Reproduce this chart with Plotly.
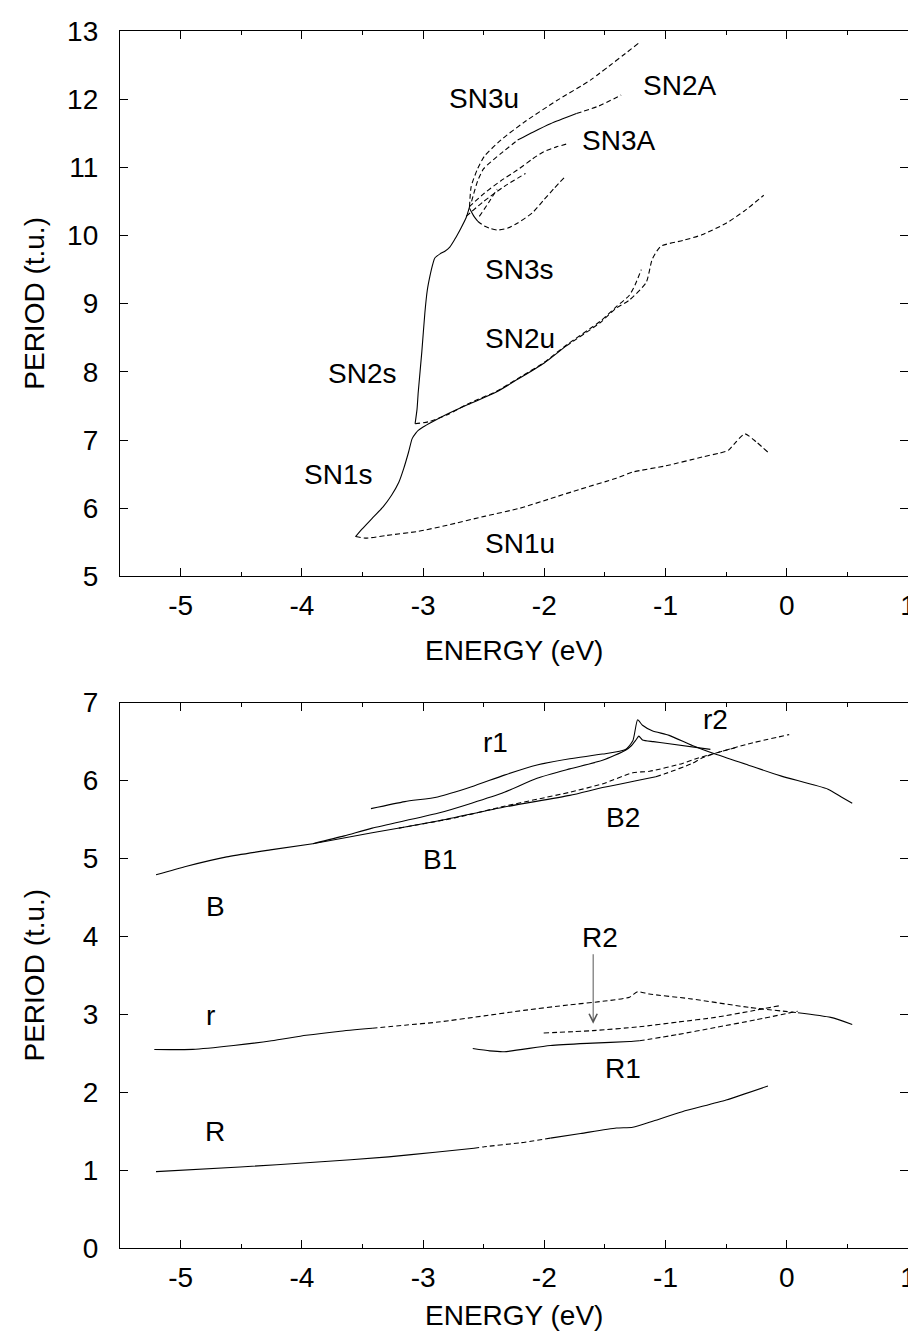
import plotly.graph_objects as go

# ---------------- TOP PANEL DATA ----------------
sn1s_x = [-3.557, -3.50, -3.42, -3.33, -3.26, -3.20, -3.16, -3.12, -3.09, -3.06, -3.04, -3.00, -2.93, -2.80, -2.63, -2.40, -2.22, -2.00, -1.82]
sn1s_y = [5.584, 5.70, 5.85, 6.02, 6.19, 6.38, 6.58, 6.82, 7.02, 7.10, 7.14, 7.19, 7.26, 7.38, 7.52, 7.70, 7.89, 8.13, 8.38]
sn1c_x = [-1.82, -1.54, -1.41, -1.30, -1.16, -1.11, -1.04, -0.85, -0.70, -0.50, -0.35, -0.19]
sn1c_y = [8.38, 8.72, 8.93, 9.05, 9.31, 9.65, 9.84, 9.93, 10.01, 10.18, 10.36, 10.59]
sn2u_x = [-3.066, -2.95, -2.80, -2.63, -2.40, -2.22, -2.00, -1.82, -1.54, -1.41, -1.30, -1.25, -1.20]
sn2u_y = [7.238, 7.27, 7.37, 7.53, 7.71, 7.90, 8.14, 8.39, 8.74, 8.95, 9.12, 9.28, 9.50]
sn2s_x = [-3.066, -3.05, -3.04, -3.01, -2.985, -2.965, -2.944, -2.92, -2.903, -2.86, -2.82, -2.78, -2.74, -2.69, -2.645, -2.617]
sn2s_y = [7.238, 7.45, 7.70, 8.30, 8.87, 9.20, 9.40, 9.58, 9.67, 9.73, 9.77, 9.83, 9.94, 10.10, 10.26, 10.42]
sn3u_x = [-2.617, -2.603, -2.55, -2.495, -2.359, -2.168, -1.896, -1.62, -1.216]
sn3u_y = [10.42, 10.72, 10.98, 11.16, 11.40, 11.66, 11.98, 12.28, 12.83]
sn2a_d1_x = [-2.60, -2.55, -2.50, -2.36, -2.22]
sn2a_d1_y = [10.50, 10.80, 10.98, 11.20, 11.40]
sn2a_s_x = [-2.22, -2.09, -1.95, -1.735]
sn2a_s_y = [11.40, 11.52, 11.64, 11.79]
sn2a_d2_x = [-1.735, -1.55, -1.366]
sn2a_d2_y = [11.79, 11.90, 12.06]
sn3a_x = [-2.62, -2.495, -2.36, -2.223, -2.10, -2.005, -1.90, -1.80]
sn3a_y = [10.42, 10.62, 10.80, 10.96, 11.12, 11.23, 11.30, 11.35]
linex_x = [-2.645, -2.50, -2.33, -2.155]
linex_y = [10.28, 10.50, 10.72, 10.91]
liney_x = [-2.536, -2.46, -2.39]
liney_y = [10.28, 10.48, 10.68]
sn3s_s_x = [-2.617, -2.58, -2.55]
sn3s_s_y = [10.40, 10.28, 10.21]
sn3s_d_x = [-2.55, -2.495, -2.44, -2.386, -2.30, -2.223, -2.10, -2.005, -1.92, -1.83]
sn3s_d_y = [10.21, 10.14, 10.10, 10.08, 10.11, 10.18, 10.33, 10.52, 10.69, 10.86]
sn1u_x = [-3.557, -3.475, -3.30, -3.04, -2.80, -2.495, -2.20, -1.95, -1.70, -1.406, -1.27, -1.00, -0.698, -0.55, -0.481, -0.42, -0.345, -0.25, -0.155]
sn1u_y = [5.584, 5.56, 5.60, 5.66, 5.75, 5.88, 6.00, 6.14, 6.28, 6.44, 6.53, 6.62, 6.75, 6.81, 6.85, 6.97, 7.09, 6.97, 6.82]

top_labels = ["SN3u", "SN2A", "SN3A", "SN3s", "SN2u", "SN2s", "SN1s", "SN1u"]
top_label_x = [-2.50, -0.886, -1.384, -2.21, -2.20, -3.50, -3.70, -2.20]
top_label_y = [12.01, 12.20, 11.39, 9.50, 8.49, 7.98, 6.49, 5.48]

# ---------------- BOTTOM PANEL DATA ----------------
b_x = [-5.203, -4.95, -4.62, -4.26, -3.91]
b_y = [4.79, 4.90, 5.02, 5.11, 5.19]
b1_x = [-3.91, -3.65, -3.42, -2.88, -2.60, -2.33, -2.06, -1.79, -1.52, -1.33, -1.28, -1.24, -1.22, -1.19, -1.10, -1.00, -0.63]
b1_y = [5.19, 5.29, 5.39, 5.58, 5.71, 5.85, 6.03, 6.15, 6.26, 6.39, 6.45, 6.53, 6.57, 6.52, 6.50, 6.48, 6.40]
b2_s_x = [-3.91, -3.42, -2.88, -2.33, -1.79, -1.52, -1.08]
b2_s_y = [5.19, 5.33, 5.48, 5.66, 5.81, 5.91, 6.05]
b2_d_x = [-1.08, -1.00, -0.78, -0.70, -0.55, -0.40]
b2_d_y = [6.05, 6.09, 6.22, 6.29, 6.37, 6.43]
b2u_x = [-3.20, -2.74, -2.33, -2.06, -1.79, -1.515, -1.27, -1.13, -0.86, -0.73, -0.59, -0.32, 0.02]
b2u_y = [5.39, 5.52, 5.67, 5.76, 5.85, 5.96, 6.10, 6.12, 6.22, 6.29, 6.35, 6.47, 6.59]
r1_x = [-3.43, -3.15, -2.88, -2.60, -2.33, -2.06, -1.79, -1.52, -1.33, -1.27, -1.23, -1.19, -1.11, -0.97, -0.78, -0.59, -0.32, -0.05, 0.34, 0.45, 0.54]
r1_y = [5.64, 5.73, 5.79, 5.92, 6.07, 6.20, 6.28, 6.34, 6.40, 6.51, 6.78, 6.71, 6.64, 6.58, 6.45, 6.34, 6.20, 6.06, 5.89, 5.79, 5.71]
r_s_x = [-5.217, -4.90, -4.563, -4.25, -3.965, -3.70, -3.42]
r_s_y = [2.547, 2.55, 2.60, 2.66, 2.73, 2.78, 2.82]
r_d_x = [-3.42, -3.15, -2.876, -2.495, -2.17, -1.80, -1.50, -1.297, -1.23, -1.134, -0.80, -0.317, 0.092]
r_d_y = [2.82, 2.86, 2.90, 2.98, 3.05, 3.12, 3.17, 3.22, 3.29, 3.26, 3.20, 3.09, 3.02]
r_e_x = [0.092, 0.363, 0.54]
r_e_y = [3.02, 2.96, 2.87]
r2c_x = [-2.005, -1.60, -1.216, -0.90, -0.59, -0.30, -0.059]
r2c_y = [2.76, 2.79, 2.84, 2.90, 2.96, 3.04, 3.11]
r1c_s_x = [-2.59, -2.45, -2.33, -1.95, -1.60, -1.297, -1.216]
r1c_s_y = [2.56, 2.53, 2.52, 2.60, 2.63, 2.65, 2.66]
r1c_d_x = [-1.216, -0.90, -0.59, -0.25, 0.09]
r1c_d_y = [2.66, 2.74, 2.83, 2.93, 3.04]
rr_s1_x = [-5.203, -4.51, -3.90, -3.285, -2.90, -2.58]
rr_s1_y = [0.98, 1.04, 1.10, 1.17, 1.23, 1.28]
rr_d_x = [-2.58, -2.495, -2.20, -1.95]
rr_d_y = [1.28, 1.30, 1.35, 1.41]
rr_s2_x = [-1.95, -1.70, -1.406, -1.27, -1.10, -0.862, -0.50, -0.155]
rr_s2_y = [1.41, 1.47, 1.54, 1.55, 1.63, 1.75, 1.90, 2.08]

bot_labels = ["r1", "r2", "B2", "B1", "B", "R2", "r", "R1", "R"]
bot_label_x = [-2.405, -0.592, -1.352, -2.86, -4.71, -1.54, -4.757, -1.352, -4.716]
bot_label_y = [6.49, 6.78, 5.52, 4.99, 4.38, 3.99, 2.98, 2.30, 1.50]

arrow_x = -1.597
arrow_y_tail = 3.79
arrow_y_head = 2.88

x_tickvals = [-5, -4, -3, -2, -1, 0, 1]
x_ticktext = ["-5", "-4", "-3", "-2", "-1", "0", "1"]
x_minorvals = [-5.5, -4.5, -3.5, -2.5, -1.5, -0.5, 0.5]

FONT = "Liberation Sans, Arial, Helvetica, sans-serif"
DASH = "5px,3px"
LW = 1.1

fig = go.Figure()

def add(x, y, dashed, ax="x", ay="y"):
    fig.add_trace(go.Scatter(x=x, y=y, mode="lines", xaxis=ax, yaxis=ay,
                             line=dict(color="black", width=LW,
                                       dash=DASH if dashed else "solid",
                                       shape="spline", smoothing=0.6),
                             showlegend=False, hoverinfo="skip"))

# top panel
add(sn1s_x, sn1s_y, False)
add(sn1c_x, sn1c_y, True)
add(sn2u_x, sn2u_y, True)
add(sn2s_x, sn2s_y, False)
add(sn3u_x, sn3u_y, True)
add(sn2a_d1_x, sn2a_d1_y, True)
add(sn2a_s_x, sn2a_s_y, False)
add(sn2a_d2_x, sn2a_d2_y, True)
add(sn3a_x, sn3a_y, True)
add(linex_x, linex_y, True)
add(liney_x, liney_y, True)
add(sn3s_s_x, sn3s_s_y, False)
add(sn3s_d_x, sn3s_d_y, True)
add(sn1u_x, sn1u_y, True)

# bottom panel
for xs, ys, d in [(b_x, b_y, False), (b1_x, b1_y, False), (b2_s_x, b2_s_y, False),
                  (b2_d_x, b2_d_y, True), (b2u_x, b2u_y, True), (r1_x, r1_y, False),
                  (r_s_x, r_s_y, False), (r_d_x, r_d_y, True), (r_e_x, r_e_y, False),
                  (r2c_x, r2c_y, True), (r1c_s_x, r1c_s_y, False), (r1c_d_x, r1c_d_y, True),
                  (rr_s1_x, rr_s1_y, False), (rr_d_x, rr_d_y, True), (rr_s2_x, rr_s2_y, False)]:
    add(xs, ys, d, "x2", "y2")

annotations = []
for t, x, y in zip(top_labels, top_label_x, top_label_y):
    annotations.append(dict(text=t, x=x, y=y, xref="x", yref="y", showarrow=False,
                            font=dict(size=28, family=FONT, color="black")))
for t, x, y in zip(bot_labels, bot_label_x, bot_label_y):
    annotations.append(dict(text=t, x=x, y=y, xref="x2", yref="y2", showarrow=False,
                            font=dict(size=28, family=FONT, color="black")))
annotations.append(dict(text="", x=arrow_x, y=arrow_y_head, ax=arrow_x, ay=arrow_y_tail,
                        xref="x2", yref="y2", axref="x2", ayref="y2", showarrow=True,
                        arrowhead=5, arrowsize=1.6, arrowwidth=1, arrowcolor="#555555"))
# axis titles
for txt, x, y, ang in [("ENERGY (eV)", 0.5, 0.4906, 0), ("ENERGY (eV)", 0.5, -0.0556, 0),
                       ("PERIOD (t.u.)", -0.109, 0.776, -90), ("PERIOD (t.u.)", -0.109, 0.224, -90)]:
    annotations.append(dict(text=txt, x=x, y=y, xref="paper", yref="paper", showarrow=False,
                            textangle=ang, xanchor="center", yanchor="middle",
                            font=dict(size=28, family=FONT, color="black")))

xaxis_common = dict(range=[-5.5, 1], tickmode="array", tickvals=x_tickvals, ticktext=x_ticktext,
                    ticks="inside", ticklen=8, tickwidth=1, tickcolor="black",
                    minor=dict(tickmode="array", tickvals=x_minorvals,
                               ticks="inside", ticklen=4, tickwidth=1, tickcolor="black"),
                    showline=True, linecolor="black", linewidth=1.3, mirror="allticks",
                    showgrid=False, zeroline=False, ticklabelstandoff=4,
                    tickfont=dict(size=28, family=FONT, color="black"))
yaxis_common = dict(ticks="inside", ticklen=8, tickwidth=1, tickcolor="black", dtick=1,
                    showline=True, linecolor="black", linewidth=1.3, mirror="allticks",
                    showgrid=False, zeroline=False, ticklabelstandoff=15,
                    tickfont=dict(size=28, family=FONT, color="black"))

fig.update_layout(
    width=916, height=1332,
    margin=dict(l=112, r=8, t=17, b=92),
    paper_bgcolor="white", plot_bgcolor="white",
    xaxis=dict(**xaxis_common, domain=[0, 1], anchor="y"),
    yaxis=dict(**yaxis_common, range=[5, 13], domain=[0.5519, 1], anchor="x"),
    xaxis2=dict(**xaxis_common, domain=[0, 1], anchor="y2"),
    yaxis2=dict(**yaxis_common, range=[0, 7], domain=[0, 0.4481], anchor="x2"),
    annotations=annotations,
)

fig.write_html("out.html")
